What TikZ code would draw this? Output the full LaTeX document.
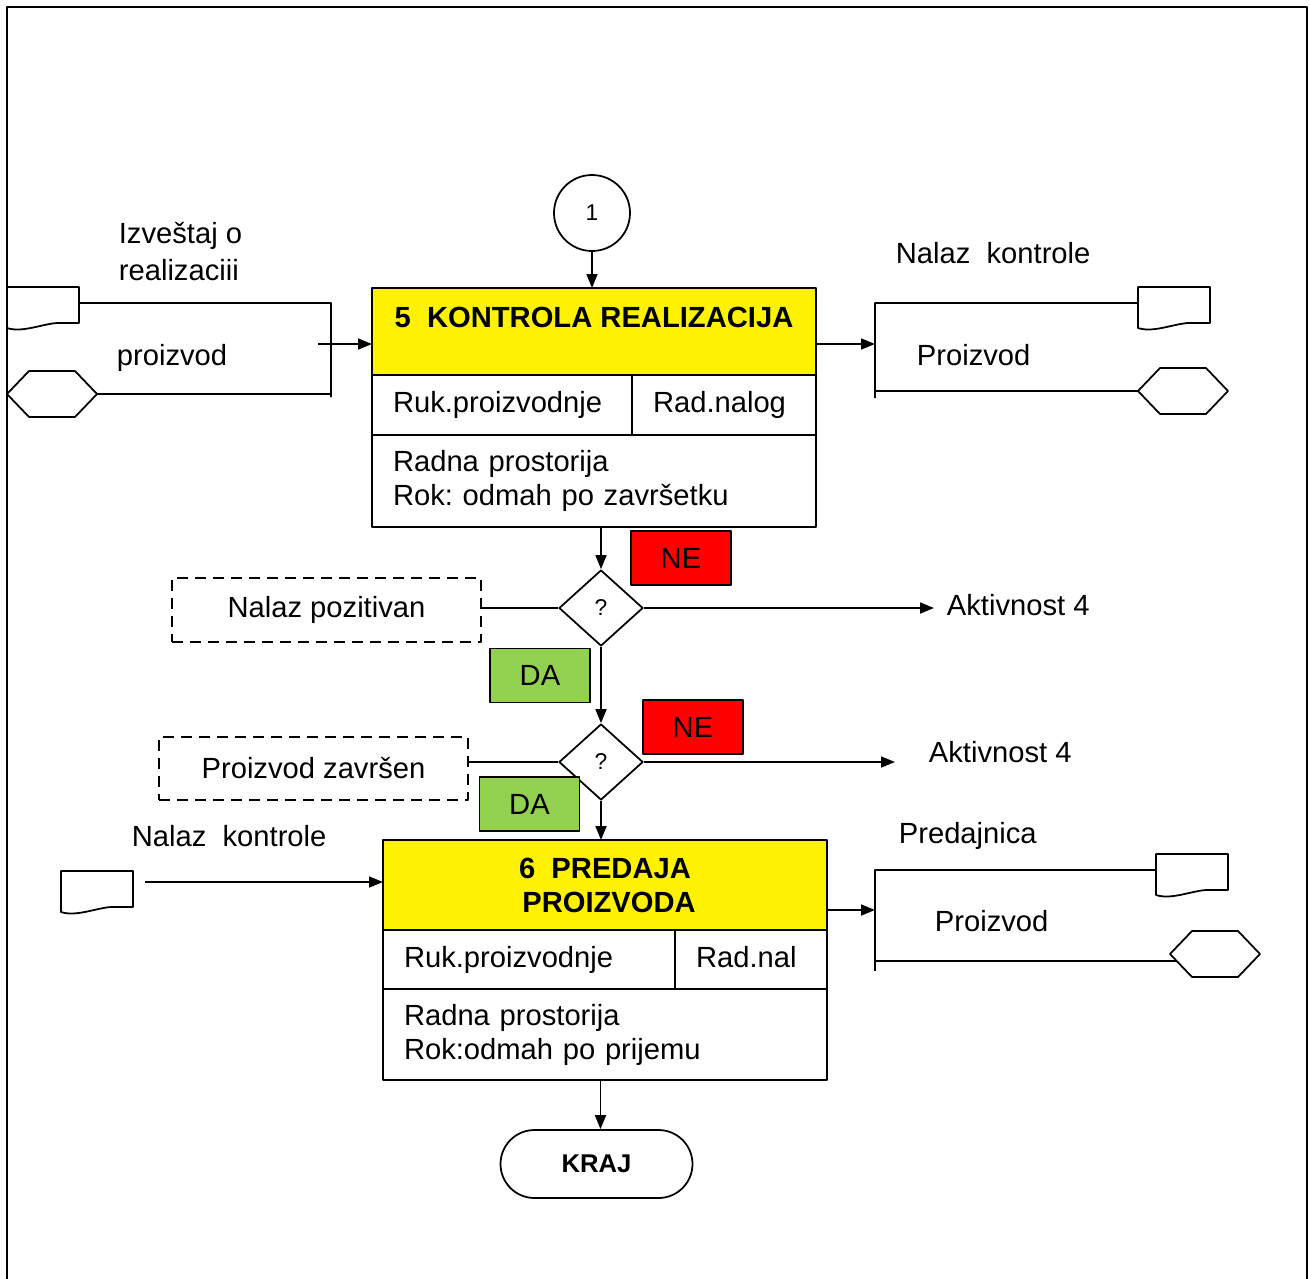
\documentclass[tikz,border=0pt]{standalone}
\usepackage{fontspec}
\setmainfont{Liberation Sans}
\usetikzlibrary{arrows.meta,shapes.geometric,positioning}
\newcommand{\fsz}{\fontsize{8.3}{9.7}\selectfont\frenchspacing}
\definecolor{dagreen}{RGB}{146,208,80}
\tikzset{
  every node/.style={font=\fsz},
  lbl/.style={inner sep=0pt, anchor=west, align=left},
  hdr/.style={draw, fill=yellow, minimum width=4.44cm, anchor=north west, inner sep=0pt, outer sep=0pt},
  ttl/.style={font=\fsz\bfseries, inner sep=0pt},
  cell/.style={draw, inner xsep=0.21cm, inner ysep=0pt, outer sep=0pt, align=left, anchor=north west},
  midcell/.style={cell, text height=0.21cm, text depth=0.06cm},
  flag/.style={draw, minimum width=1.0cm, minimum height=0.54cm, inner sep=0pt},
  note/.style={draw, dash pattern=on 0.11cm off 0.07cm, minimum width=3.09cm, minimum height=0.64cm, inner sep=0pt},
  dec/.style={draw, fill=white, diamond, minimum width=0.84cm, minimum height=0.76cm, inner sep=0pt, font=\fontsize{6.5}{7}\selectfont},
  arr/.style={-{Triangle[length=0.14cm,width=0.11cm]}},
  pics/docsym/.style={code={
    \draw (0,0) -- (0.72,0) -- (0.72,-0.36) -- (0.5,-0.36) .. controls (0.35,-0.37) and (0.15,-0.46) .. (0,-0.41) -- cycle;
    \coordinate (-w) at (0,-0.16); \coordinate (-e) at (0.72,-0.16);}},
  pics/hexsym/.style={code={
    \draw (0,0) -- (0.22,0.23) -- (0.68,0.23) -- (0.9,0) -- (0.68,-0.23) -- (0.22,-0.23) -- cycle;
    \coordinate (-w) at (0,0); \coordinate (-e) at (0.9,0); \coordinate (-sw) at (0.067,-0.07);}},
}
\begin{document}
\begin{tikzpicture}[line width=0.5pt, line join=round]
  \useasboundingbox (0,0) rectangle (13.1,-12.78);
  \draw[line width=0.6pt] (0.07,-12.9) -- (0.07,-0.07) -- (13.07,-0.07) -- (13.07,-12.9);

  % aktivnost 5
  \node[draw, circle, minimum size=0.76cm, inner sep=0pt, font=\fontsize{6.5}{7}\selectfont] (c1) at (5.92,-2.13) {1};
  \node[hdr, minimum height=0.87cm] (k5) at (3.72,-2.88) {};
  \node[ttl] (k5t) at (5.94,-3.17) {5\ \ KONTROLA REALIZACIJA};
  \node[midcell, text width=2.18cm, minimum height=0.60cm] (k5a) at (k5.south west) {Ruk.proizvodnje};
  \node[midcell, text width=1.42cm, minimum height=0.60cm] (k5b) at (k5a.north east) {Rad.nalog};
  \node[cell, text width=4.02cm, minimum height=0.92cm] (k5c) at (k5a.south west) {Radna prostorija\\Rok: odmah po završetku};
  \draw[arr] (c1.south) -- (c1.south |- k5.north);

  % ulazi
  \node[lbl, font=\fontsize{8.3}{10.5}\selectfont] (izv) at (1.18,-2.515) {Izveštaj o\\realizaciii};
  \node[lbl] (pr1) at (1.16,-3.58) {proizvod};
  \pic (d1) at (0.07,-2.87) {docsym};
  \pic (h1) at (0.07,-3.94) {hexsym};
  \coordinate (j1t) at (3.31,-3.03);
  \coordinate (j1b) at (3.31,-3.97);
  \coordinate (a1) at (3.18,-3.44);
  \draw (d1-e) -- (j1t) -- (j1b);
  \draw (h1-e) -- (h1-e -| j1t);
  \draw[arr] (a1) -- (a1 -| k5.west);

  % izlazi
  \node[lbl] (nk1) at (8.95,-2.53) {Nalaz\ \ kontrole};
  \node[lbl] (pr2) at (9.16,-3.55) {Proizvod};
  \pic (d2) at (11.38,-2.87) {docsym};
  \pic (h2) at (11.38,-3.91) {hexsym};
  \coordinate (j2t) at (8.75,-3.03);
  \coordinate (j2b) at (8.75,-3.98);
  \draw[arr] (k5.east |- a1) -- (a1 -| j2t);
  \draw (d2-w) -- (j2t) -- (j2b);
  \draw (h2-w) -- (h2-w -| j2t);

  % odluke
  \node[dec] (q1) at (6.01,-6.08) {?};
  \node[dec] (q2) at (6.01,-7.62) {?};
  \node[note] (n1) at (3.265,-6.10) {Nalaz pozitivan};
  \node[note, minimum height=0.63cm] (n2) at (3.135,-7.685) {Proizvod završen};
  \node[lbl] (akt1) at (9.46,-6.05) {Aktivnost 4};
  \node[lbl] (akt2) at (9.28,-7.52) {Aktivnost 4};
  \draw[arr] (q1.north |- k5c.south) -- (q1.north);
  \draw[arr] (q1.south) -- (q2.north);
  \draw (q1.west) -- (q1.west -| n1.east);
  \draw (q2.west) -- (q2.west -| n2.east);
  \draw[arr] (q1.east) -- ([xshift=-0.12cm]q1.east -| akt1.west);
  \draw[arr] (q2.east) -- ([xshift=-0.33cm]q2.east -| akt2.west);
  \node[flag, fill=red] (ne1) at (6.81,-5.58) {NE};
  \node[flag, fill=dagreen] (da1) at (5.40,-6.755) {DA};
  \node[flag, fill=red] (ne2) at (6.93,-7.27) {NE};
  \node[flag, fill=dagreen] (da2) at (5.295,-8.04) {DA};

  % aktivnost 6
  \node[hdr, minimum height=0.90cm, ttl, align=center] (k6) at (3.83,-8.40) {6\ \ PREDAJA\\\ PROIZVODA};
  \node[midcell, text width=2.50cm, minimum height=0.59cm] (k6a) at (k6.south west) {Ruk.proizvodnje};
  \node[midcell, text width=1.10cm, minimum height=0.59cm] (k6b) at (k6a.north east) {Rad.nal};
  \node[cell, text width=4.02cm, minimum height=0.91cm] (k6c) at (k6a.south west) {Radna prostorija\\Rok:odmah po prijemu};
  \draw[arr] (q2.south) -- (q2.south |- k6.north);

  \node[lbl] (nk2) at (1.31,-8.36) {Nalaz\ \ kontrole};
  \pic (d3) at (0.61,-8.71) {docsym};
  \coordinate (a3) at (1.45,-8.82);
  \draw[arr] (a3) -- (a3 -| k6.west);

  \node[lbl] (pred) at (8.98,-8.36) {Predajnica};
  \node[lbl] (pr3) at (9.34,-9.21) {Proizvod};
  \pic (d4) at (11.56,-8.54) {docsym};
  \pic (h4) at (11.70,-9.54) {hexsym};
  \coordinate (j4t) at (8.75,-8.70);
  \coordinate (j4b) at (8.75,-9.71);
  \coordinate (a4) at (8.27,-9.10);
  \draw[arr] (a4) -- (a4 -| j4t);
  \draw (d4-w) -- (j4t) -- (j4b);
  \draw (h4-sw) -- (h4-sw -| j4t);

  % kraj
  \node[draw, rounded corners=0.34cm, minimum width=1.92cm, minimum height=0.68cm, font=\fontsize{7.3}{8}\selectfont\bfseries] (kraj) at (5.965,-11.64) {KRAJ};
  \draw[arr] ([xshift=0.04cm]kraj.north |- k6c.south) -- ([xshift=0.04cm]kraj.north);
\end{tikzpicture}
\end{document}
